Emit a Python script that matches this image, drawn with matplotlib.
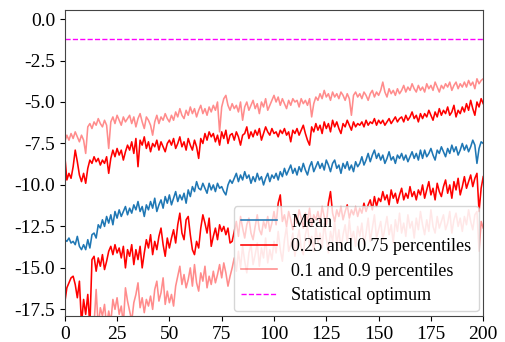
import numpy as np
import matplotlib

matplotlib.use("Agg")
import matplotlib.pyplot as plt

plt.rcParams["font.family"] = ["Liberation Serif", "DejaVu Serif"]
plt.rcParams["axes.unicode_minus"] = False

# reward per episode, averaged over runs
mean = [
    -13.3, -13.4, -13.2, -13.5, -13.4, -13.6, -13.1, -13.7, -13.9, -13.6, -13.9,
    -13.3, -13.8, -13.0, -12.9, -13.2, -12.4, -12.6, -12.1, -12.5, -11.9,
    -12.3, -11.8, -12.4, -11.6, -12.0, -11.5, -11.9, -11.6, -11.3, -11.8,
    -11.4, -11.7, -11.2, -11.5, -11.0, -11.6, -11.3, -11.9, -11.2, -11.5,
    -11.0, -11.4, -10.8, -11.6, -11.2, -10.9, -11.4, -10.7, -11.1, -10.6,
    -11.2, -10.8, -10.4, -11.0, -10.6, -10.9, -10.5, -11.1, -10.3, -10.7,
    -10.1, -10.4, -9.8, -10.2, -10.3, -9.9, -10.2, -10.5, -9.9, -10.3,
    -10.0, -10.4, -9.9, -10.2, -10.1, -10.4, -10.6, -10.0, -9.7, -9.9,
    -9.6, -9.3, -9.8, -9.4, -9.7, -9.2, -9.6, -9.4, -9.9, -9.5,
    -9.8, -9.3, -9.7, -9.5, -10.0, -9.6, -9.3, -9.8, -9.4, -9.6,
    -9.3, -9.7, -9.2, -9.5, -9.0, -9.4, -9.1, -8.8, -9.3, -9.0,
    -9.4, -8.9, -9.2, -8.7, -9.1, -9.4, -8.9, -8.6, -9.2, -8.9,
    -8.6, -9.0, -8.7, -9.1, -8.5, -8.8, -9.2, -8.7, -8.5, -9.0,
    -8.8, -9.3, -8.7, -9.0, -8.6, -9.1, -8.8, -9.2, -8.6, -8.9,
    -8.7, -8.3, -8.8, -8.5, -8.1, -8.6, -8.2, -7.9, -8.4, -8.1,
    -8.5, -8.2, -8.7, -8.4, -8.0, -8.5, -8.3, -8.7, -8.2, -8.4,
    -8.1, -8.5, -8.2, -8.6, -8.3, -8.0, -8.4, -8.1, -8.5, -7.9,
    -8.4, -7.9, -8.3, -8.1, -7.8, -8.2, -8.5, -7.9, -8.1, -7.7,
    -8.0, -8.3, -7.8, -8.1, -7.6, -8.0, -7.7, -8.2, -7.9, -7.5,
    -7.9, -7.6, -8.0, -7.7, -7.3, -7.6, -8.7, -7.8, -7.4, -7.5,
]

p75 = [
    -8.2, -9.7, -9.3, -9.6, -8.9, -7.9, -8.6, -9.4, -9.8, -9.3, -9.9,
    -9.0, -8.5, -8.7, -8.3, -8.6, -8.4, -8.8, -8.5, -8.7, -8.3,
    -9.3, -8.4, -7.9, -8.3, -7.8, -8.2, -7.9, -8.5, -8.0, -7.6,
    -7.9, -7.4, -8.1, -7.2, -8.9, -7.3, -7.6, -7.1, -7.8, -7.4,
    -8.0, -7.5, -7.7, -7.3, -7.9, -7.4, -7.7, -8.0, -7.5, -7.3,
    -7.6, -7.2, -7.8, -7.5, -7.1, -7.7, -7.4, -7.9, -7.2, -7.6,
    -7.9, -7.3, -7.7, -8.4, -7.2, -7.5, -6.9, -7.3, -6.8, -7.1,
    -6.9, -7.4, -7.0, -7.6, -6.8, -7.2, -6.7, -7.5, -7.0, -6.9,
    -7.3, -6.8, -7.1, -7.6, -7.0, -6.9, -6.5, -7.2, -6.8, -7.1,
    -6.7, -7.0, -6.6, -7.3, -6.9, -6.5, -6.8, -7.0, -6.6, -6.9,
    -6.8, -7.1, -6.7, -6.9, -6.6, -7.0, -6.8, -7.4, -6.7, -6.9,
    -6.6, -7.0, -6.7, -6.4, -6.9, -7.3, -7.6, -6.5, -6.8, -6.3,
    -6.7, -6.4, -6.9, -6.2, -6.6, -6.3, -6.8, -6.1, -6.5, -6.2,
    -6.6, -6.9, -6.3, -6.5, -6.1, -6.4, -6.7, -6.2, -6.5, -6.3,
    -6.4, -6.2, -6.5, -6.1, -6.4, -6.2, -6.3, -6.0, -6.4, -6.1,
    -6.3, -6.1, -6.4, -6.2, -6.0, -6.3, -6.1, -5.9, -6.2, -6.0,
    -5.9, -6.2, -5.8, -6.1, -5.9, -5.6, -6.0, -5.8, -6.2, -5.7,
    -6.0, -5.7, -5.9, -5.5, -5.8, -6.1, -5.6, -5.9, -5.4, -5.8,
    -5.5, -5.7, -5.3, -5.8, -5.6, -5.2, -5.9, -5.5, -5.7, -5.3,
    -5.6, -5.1, -5.5, -4.9, -5.4, -5.8, -5.0, -5.3, -4.8, -5.1,
]

p90 = [
    -7.4, -7.0, -7.3, -6.9, -7.2, -6.8, -7.1, -7.4, -7.0, -7.3, -8.1,
    -6.5, -6.3, -6.6, -6.2, -6.4, -6.0, -6.3, -6.5, -6.1, -6.4,
    -7.8, -6.2, -5.9, -6.3, -5.8, -6.1, -6.4, -5.9, -6.2, -6.0,
    -5.8, -6.3, -5.9, -6.5, -6.0, -5.7, -6.2, -6.6, -5.9, -6.1,
    -6.4, -7.0, -6.2, -5.8, -6.3, -5.9, -6.1, -5.7, -6.0, -6.2,
    -5.8, -6.1, -5.6, -5.9, -5.4, -5.8, -6.0, -5.5, -5.8, -5.3,
    -5.7, -5.4, -5.9, -5.5, -5.2, -5.7, -5.4, -5.8, -5.3, -5.6,
    -5.2, -5.5, -5.0, -6.8, -5.3, -4.8, -4.6, -5.2, -5.5, -5.1,
    -5.4, -5.2, -5.6, -5.0, -6.1, -5.3, -5.0, -5.5, -5.2, -4.9,
    -5.4, -5.1, -5.7, -5.0, -5.3, -4.8, -5.5, -5.2, -4.9, -4.6,
    -5.0, -4.7, -5.2, -4.8, -5.1, -5.4, -4.9, -5.2, -4.8, -5.0,
    -4.9, -5.3, -4.8, -5.1, -4.9, -5.2, -4.8, -5.9, -5.1, -4.7,
    -4.9, -4.5, -4.8, -4.3, -4.7, -4.5, -4.9, -4.4, -4.7, -4.5,
    -4.8, -4.4, -4.6, -4.9, -4.5, -4.8, -5.8, -4.6, -4.4, -4.7,
    -4.5, -4.8, -4.4, -4.6, -4.9, -4.5, -4.3, -4.7, -4.4, -4.6,
    -4.3, -3.8, -4.4, -4.7, -4.2, -4.5, -4.3, -4.6, -4.2, -4.5,
    -4.3, -4.0, -4.4, -4.1, -4.3, -3.9, -4.2, -4.4, -4.0, -4.3,
    -4.1, -4.4, -3.9, -4.2, -4.0, -4.3, -3.8, -4.1, -4.4, -4.0,
    -4.2, -3.9, -4.1, -3.8, -4.3, -4.0, -3.8, -4.2, -3.9, -4.1,
    -3.8, -4.1, -3.7, -4.0, -3.8, -4.2, -3.6, -3.9, -3.7, -3.6,
]

p25 = [
    -17.1, -16.2, -15.9, -15.6, -15.5, -16.0, -16.8, -15.8, -18.4, -16.9, -17.8,
    -16.6, -18.5, -14.5, -14.3, -15.2, -14.4, -14.9, -14.2, -15.1, -14.6,
    -14.0, -13.7, -14.2, -13.6, -14.1, -13.8, -14.4, -13.7, -15.0, -13.9,
    -14.3, -13.6, -14.8, -13.9, -14.5, -13.7, -15.0, -14.1, -13.3, -13.8,
    -13.0, -14.2, -13.4, -13.9, -13.1, -12.6, -13.6, -14.3, -13.2, -13.8,
    -13.2, -12.7, -13.5, -12.4, -11.7, -12.9, -13.3, -12.1, -11.9, -13.0,
    -13.9, -14.2, -13.4, -13.8, -12.6, -11.8, -12.3, -12.9, -12.0, -13.7,
    -13.1, -12.6, -13.3, -12.4, -12.8, -12.5, -13.0, -12.6, -13.5, -13.4,
    -12.8, -12.2, -13.1, -11.9, -12.6, -13.2, -12.4, -12.0, -12.9, -13.3,
    -12.5, -11.8, -12.7, -13.0, -12.2, -12.6, -11.9, -12.8, -12.3, -11.6,
    -12.4, -11.1, -10.6, -12.2, -11.8, -12.5, -11.6, -12.1, -12.7, -11.9,
    -12.3, -11.5, -12.0, -12.6, -11.7, -12.2, -11.4, -12.5, -11.8, -12.1,
    -11.6, -12.3, -11.3, -11.9, -12.4, -11.1, -10.4, -11.7, -12.2, -11.5,
    -11.9, -11.3, -12.1, -11.6, -11.2, -12.0, -11.5, -11.8, -11.3, -11.9,
    -11.4, -11.7, -11.1, -11.6, -11.2, -10.9, -11.5, -10.7, -11.3, -10.8,
    -11.0, -10.4, -10.9, -10.6, -11.2, -10.3, -10.8, -10.5, -11.1, -10.6,
    -10.2, -10.9, -10.5, -10.8, -10.1, -10.7, -10.4, -10.9, -10.3, -10.6,
    -10.0, -10.8, -10.3, -9.8, -10.6, -10.2, -10.9, -9.9, -10.4, -10.7,
    -10.1, -9.7, -10.5, -10.0, -10.8, -9.8, -10.3, -9.6, -10.6, -10.1,
    -9.5, -10.2, -9.8, -9.4, -10.1, -9.6, -9.3, -11.6, -10.2, -9.5,
]

p10 = [
    -19.5, -19.8, -19.2, -20.0, -19.6, -19.3, -19.9, -20.2, -19.7, -20.1, -19.4,
    -19.8, -19.0, -18.7, -18.4, -16.3, -18.6, -17.4, -17.9, -17.2, -18.5,
    -17.6, -18.3, -16.9, -17.5, -16.8, -17.8, -17.3, -18.4, -16.2, -17.0,
    -17.6, -18.2, -17.1, -16.6, -15.9, -17.4, -16.8, -17.7, -16.9, -17.3,
    -16.7, -17.5, -16.3, -15.8, -17.0, -16.5, -15.6, -17.2, -16.4, -17.1,
    -16.6, -17.3, -16.1, -15.5, -14.9, -16.0, -15.4, -16.2, -15.7, -15.0,
    -16.1, -14.8, -15.9, -16.4, -15.3, -15.8, -14.9, -16.2, -15.5, -16.0,
    -15.2, -15.9, -15.4, -14.8, -15.6, -14.7, -15.3, -16.1, -15.5, -15.0,
    -14.4, -15.2, -14.0, -15.0, -13.7, -14.6, -15.3, -14.1, -13.6, -14.8,
    -14.2, -13.5, -14.9, -13.8, -14.4, -13.2, -14.7, -13.9, -14.5, -13.4,
    -14.1, -12.8, -13.9, -14.6, -13.3, -12.5, -14.0, -13.6, -12.9, -14.3,
    -13.4, -12.7, -13.8, -14.2, -13.0, -12.4, -13.7, -13.1, -14.0, -12.6,
    -13.5, -12.9, -13.8, -12.3, -13.2, -14.1, -12.8, -13.4, -12.2, -13.6,
    -12.7, -13.9, -13.0, -12.4, -13.5, -12.1, -13.3, -12.8, -13.7, -12.5,
    -13.1, -12.3, -13.6, -12.9, -12.0, -13.4, -12.6, -11.8, -13.2, -12.7,
    -12.2, -13.3, -12.6, -11.9, -13.0, -12.4, -13.5, -12.1, -12.8, -11.7,
    -12.9, -12.3, -13.1, -11.8, -12.6, -12.2, -13.2, -12.0, -12.7, -11.6,
    -12.4, -13.0, -12.1, -12.8, -11.5, -12.5, -12.9, -11.9, -12.6, -12.2,
    -11.8, -12.7, -12.3, -11.6, -12.9, -12.1, -11.7, -12.5, -12.0, -12.8,
    -11.9, -12.4, -11.5, -12.2, -12.7, -11.8, -11.6, -14.0, -12.2, -12.6,
]

optimum = -1.2
episodes = np.arange(len(mean))

fig = plt.figure(figsize=(5.06, 3.42), dpi=100)
ax = fig.add_axes([0.128, 0.076, 0.827, 0.895])

ax.plot(episodes, mean, color="#1f77b4", lw=1.15, label="Mean")
ax.plot(episodes, p75, color="red", lw=1.15, label="0.25 and 0.75 percentiles")
ax.plot(episodes, p25, color="red", lw=1.15)
ax.plot(episodes, p90, color="red", alpha=0.45, lw=1.15, label="0.1 and 0.9 percentiles")
ax.plot(episodes, p10, color="red", alpha=0.45, lw=1.15)
ax.axhline(optimum, color="magenta", ls="--", lw=1.0, label="Statistical optimum")

ax.set_xlim(0, 200)
ax.set_ylim(-17.9, 0.55)
ax.set_xticks(np.arange(0, 201, 25))
ax.set_yticks(np.arange(0, -17.6, -2.5))
ax.tick_params(labelsize=14)
for spine in ax.spines.values():
    spine.set_color("#444444")
ax.legend(loc="lower right", fontsize=13, handlelength=2.0,
          borderaxespad=0.25, labelspacing=0.42)

fig.savefig("out.png", dpi=100)
